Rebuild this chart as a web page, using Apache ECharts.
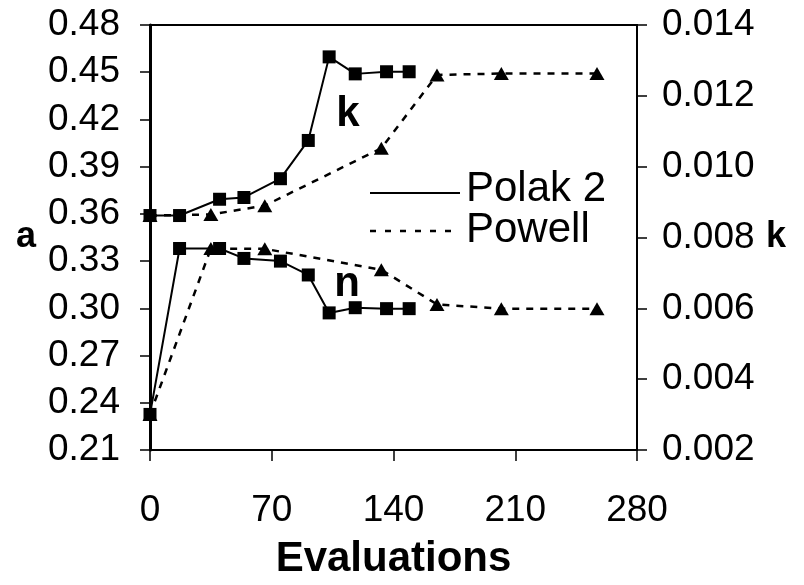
<!DOCTYPE html>
<html>
<head>
<meta charset="utf-8">
<script src="https://cdn.jsdelivr.net/npm/echarts@6/dist/echarts.min.js"></script>
<style>
	html, body { margin: 0; padding: 0; background: #fff; }
	#chart { width: 804px; height: 585px; }
</style>
</head>
<body>
<div id="chart"></div>
<script>
// evaluations (x) and values
const polakEvals = [0, 17, 40, 54, 75, 91, 103, 118, 136, 149]
const polakK = [0.00862, 0.00862, 0.00908, 0.00913, 0.00966, 0.01074, 0.01310, 0.01262, 0.01268, 0.01268]
const polakN = [0.2326, 0.338, 0.338, 0.3317, 0.330, 0.3212, 0.2971, 0.3004, 0.2998, 0.2998]

const powellEvals = [0, 35, 66, 133, 165, 202, 257]
const powellK = [0.00862, 0.00865, 0.00890, 0.01052, 0.01259, 0.01263, 0.01263]
const powellN = [0.2326, 0.338, 0.3378, 0.3245, 0.3025, 0.2998, 0.2998]

const xTicks = { min: 0, max: 280, step: 70 }
const aTicks = { min: 0.21, max: 0.48, step: 0.03 }
const kTicks = { min: 0.002, max: 0.014, step: 0.002 }

const font = 'Liberation Sans, Arial, sans-serif'

function pairs(xs, ys) {
	return xs.map((x, i) => [x, ys[i]])
}

function valueAxis(t, digits, margin, extra) {
	return Object.assign({
		type: 'value',
		min: t.min,
		max: t.max,
		interval: t.step,
		splitLine: { show: false },
		axisLine: { show: true, lineStyle: { color: '#000', width: 2 } },
		axisTick: { show: true, length: 10, lineStyle: { color: '#000', width: 1.5 } },
		axisLabel: {
			color: '#000',
			fontFamily: font,
			fontSize: 37,
			margin: margin,
			formatter: v => v.toFixed(digits)
		},
		nameTextStyle: {
			color: '#000',
			fontFamily: font,
			fontWeight: 'bold',
			fontSize: 36,
			align: 'center',
			verticalAlign: 'middle'
		}
	}, extra)
}

function lineSeries(name, xs, ys, axis, dashed) {
	return {
		name: name,
		type: 'line',
		yAxisIndex: axis,
		data: pairs(xs, ys),
		symbol: dashed ? 'triangle' : 'rect',
		symbolSize: dashed ? [15, 13] : 13,
		itemStyle: { color: '#000' },
		lineStyle: {
			color: '#000',
			width: dashed ? 2.5 : 2,
			type: dashed ? [7, 7] : 'solid'
		},
		z: dashed ? 2 : 3
	}
}

const chart = echarts.init(document.getElementById('chart'))
chart.setOption({
	animation: false,
	backgroundColor: '#fff',
	grid: {
		left: 150,
		right: 167,
		top: 25,
		bottom: 129,
		show: true,
		borderColor: '#000',
		borderWidth: 2
	},
	xAxis: valueAxis(xTicks, 0, 42, {
		name: 'Evaluations',
		nameLocation: 'middle',
		nameGap: 88,
		axisTick: { show: true, length: 11, lineStyle: { color: '#000', width: 1.5 } },
		nameTextStyle: { color: '#000', fontFamily: font, fontWeight: 'bold', fontSize: 42 }
	}),
	yAxis: [
		valueAxis(aTicks, 2, 30, {
			position: 'left',
			name: 'a',
			nameLocation: 'middle',
			nameRotate: 0,
			nameGap: 124,
			axisLine: { show: true, lineStyle: { color: '#000', width: 3 } }
		}),
		valueAxis(kTicks, 3, 25, {
			position: 'right',
			name: 'k',
			nameLocation: 'middle',
			nameRotate: 0,
			nameGap: 139
		})
	],
	series: [
		lineSeries('Powell', powellEvals, powellK, 1, true),
		lineSeries('Powell', powellEvals, powellN, 0, true),
		lineSeries('Polak 2', polakEvals, polakK, 1, false),
		lineSeries('Polak 2', polakEvals, polakN, 0, false)
	],
	graphic: [
		// legend
		{ type: 'line', shape: { x1: 370, y1: 193, x2: 460, y2: 193 }, style: { stroke: '#000', lineWidth: 2 } },
		{ type: 'line', shape: { x1: 370, y1: 231, x2: 460, y2: 231 }, style: { stroke: '#000', lineWidth: 2.5, lineDash: [6, 9] } },
		{ type: 'text', left: 466, top: 168, style: { text: 'Polak 2', font: '42px ' + font, fill: '#000' } },
		{ type: 'text', left: 466, top: 209, style: { text: 'Powell', font: '42px ' + font, fill: '#000' } },
		// curve labels
		{ type: 'text', x: 348, y: 114, style: { text: 'k', font: 'bold 42px ' + font, fill: '#000', align: 'center', verticalAlign: 'middle' } },
		{ type: 'text', x: 347, y: 284, style: { text: 'n', font: 'bold 42px ' + font, fill: '#000', align: 'center', verticalAlign: 'middle' } }
	]
})
</script>
</body>
</html>
